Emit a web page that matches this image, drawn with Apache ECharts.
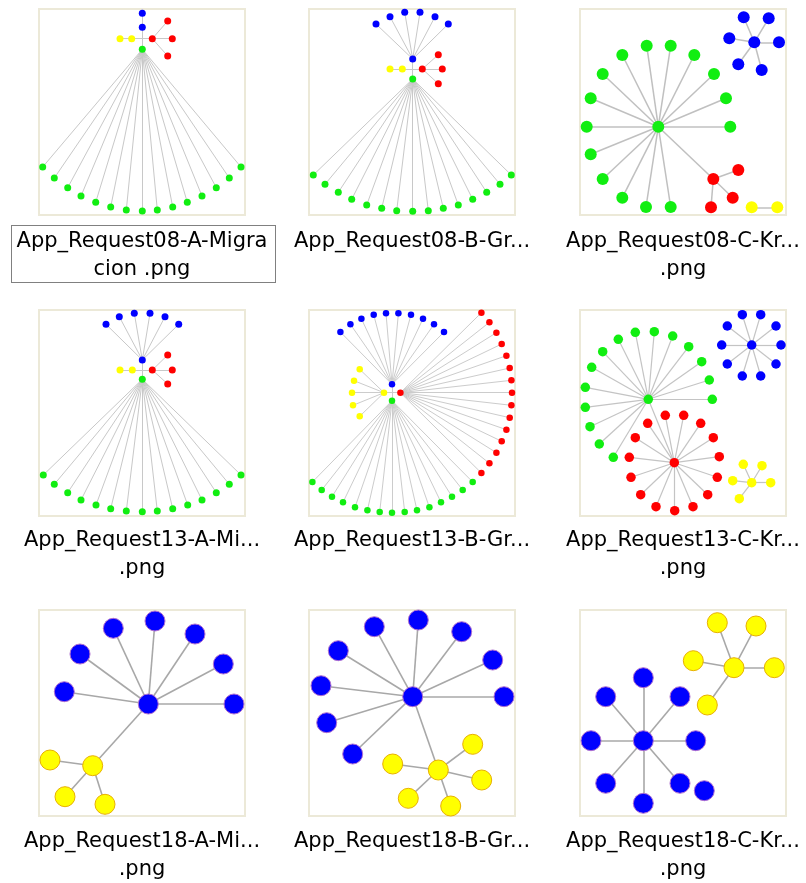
<!DOCTYPE html>
<html>
<head>
<meta charset="utf-8">
<script src="https://cdn.jsdelivr.net/npm/echarts@6/dist/echarts.min.js"></script>
<style>html,body{margin:0;padding:0;background:#fff}#c{width:806px;height:883px}</style>
</head>
<body>
<div id="c"></div>
<script>
// ---- Data: node positions inside each 206x206 thumbnail (first point of each list = hub) ----
const p08A_blue   = [[103.3,18.3],[103.3,4.3]];
const p08A_yellow = [[92.7,29.7],[81,29.7]];
const p08A_red    = [[113.3,29.7],[128.7,12],[133.3,29.7],[128.7,47]];
const p08A_green  = [[103.3,40.3],[3.7,158],[15.3,169],[28.7,178.7],[42,187],[56.7,193.3],[71.7,198],[87.3,201],[103.3,202],[118.3,201],[133.7,198],[148.3,193.3],[163,187],[177.3,178.7],[190.3,169],[202,158]];

const p08B_blue   = [[103.7,50],[67,15],[81,7.7],[95.7,3.3],[111,3.3],[126,7.7],[139.3,15]];
const p08B_yellow = [[93.3,60],[81,60]];
const p08B_red    = [[113.3,60],[129.3,45.7],[133.3,60],[129.3,74.7]];
const p08B_green  = [[103.7,70],[4.3,166],[16,175.3],[29.3,183.3],[42.7,190.3],[57.7,196],[72.7,199.3],[87.7,201.7],[103.7,202.3],[119.3,201.7],[134.3,199.3],[149.3,196],[163.7,190.3],[177.7,183.3],[191,175.3],[202.3,166]];

const p08C_green  = [[78.3,117.7],[66.7,36.7],[90.7,36.7],[114.3,46],[134,65],[146,89.3],[150.3,117.7],[42.3,46],[22.7,65],[10.7,89.3],[6.7,117.7],[10.7,145.3],[22.7,170],[42.3,188.7],[66,198],[90.7,198]];
const p08C_red    = [[133.3,170],[158.3,161],[152.7,188.7],[131,198.3]];
const p08C_yellow = [[171.7,198.3],[197.3,198.3]];
const p08C_blue   = [[174.3,33.3],[163.7,8.3],[188.7,9.3],[149.3,29.3],[199,33.3],[158.3,55.3],[181.7,61]];

const p13A_blue   = [[103.3,50],[67,14.3],[80.3,6.7],[95.3,3.3],[111,3.3],[126,6.7],[139.7,14.3]];
const p13A_yellow = [[93.3,60],[81,60]];
const p13A_red    = [[113.3,60],[128.7,45],[133.3,60],[128.7,74]];
const p13A_green  = [[103.3,69.3],[4.3,165],[15.3,174.3],[28.7,182.7],[42,190],[57,195],[71.7,198.7],[87.3,201],[103.3,201.7],[118.3,201],[133.7,198.7],[148.7,195],[163,190],[177.3,182.7],[190.3,174.3],[202,165]];

const p13B_blue   = [[83,74.3],[31.4,22],[41.4,14.3],[52.4,8.7],[64.7,4.7],[77,3.3],[89.4,3.3],[102,4.7],[114,8.7],[125,14.3],[135,22]];
const p13B_yellow = [[75,82.7],[50.7,59.3],[45,70.7],[43,82.7],[44,95.3],[50.7,106.3]];
const p13B_red    = [[91.4,82.7],[172.4,2.7],[180.4,12.3],[187.4,22.7],[192.7,34],[197.4,45.7],[200.7,58],[202.4,70.3],[203,82.7],[202.4,95.3],[200.7,107.7],[197.4,119.7],[192.7,131.3],[187.4,142.7],[180.4,153.3],[172.4,163]];
const p13B_green  = [[83,90.7],[3.4,172],[12.7,180],[23,186.7],[34,192.3],[46,197.3],[58.4,200.3],[70.7,202],[83,202.7],[95.7,202],[108,200.3],[120.4,197.3],[132,192.3],[143,186.7],[153.7,180],[163.7,172]];

const p13C_green  = [[68.3,89.3],[55.3,22.3],[74.3,21.7],[92.7,26],[108.7,36.7],[121.7,51.7],[129.3,70],[132.3,89.3],[38.3,29.3],[22.7,41.7],[11.7,57.3],[5.3,77.3],[5.3,97.3],[10,116.7],[19.3,134],[33.3,147.3]];
const p13C_red    = [[94.3,152.7],[67.7,113.3],[85.3,105.3],[103.7,105.3],[120.7,113.3],[133.3,127.7],[139.3,146.7],[137.3,167.3],[127.7,184.7],[113,196.7],[94.7,200.7],[76,196.7],[60.7,184.7],[51,167.3],[49.3,147.3],[55.3,127.7]];
const p13C_blue   = [[171.7,35],[162.3,4.7],[180.7,4.7],[196,16],[201,35],[196,54],[180.7,66],[162.3,66],[147.3,54],[141.7,35],[147.3,16]];
const p13C_yellow = [[171.7,172.7],[163.3,154.3],[182,155.7],[190.7,172.7],[152.7,170.7],[159.3,188.7]];

const p18A_blue   = [[109.3,94],[74.3,18.3],[116,11],[156,24],[184.3,54],[195,94],[41,44],[25.3,81.7]];
const p18A_yellow = [[53.7,155.7],[11,150],[26,186.7],[66,194.3]];

const p18B_blue   = [[103.7,86.7],[65.3,16.7],[109.3,10],[152.7,21.7],[183.7,50],[195,86.7],[29.3,40.7],[12,75.7],[17.7,112.7],[43.7,144]];
const p18B_yellow = [[129.3,160],[83.7,154],[163.7,134.3],[172.7,170],[99.3,188.3],[141.7,196]];

const p18C_yellow = [[154,57.7],[137.3,12.7],[176,16],[113.3,50.7],[194.3,57.7],[127.3,95]];
const p18C_blue   = [[63.3,130.7],[63.3,67.7],[25.7,86.7],[100,86.7],[11,130.7],[115.7,130.7],[25.7,173.3],[100,173.3],[63.3,193.3]];
const p18C_blueLone = [[124.3,180.7]];

const labelLine1 = ['App_Request08-A-Migra','App_Request08-B-Gr...','App_Request08-C-Kr...',
                    'App_Request13-A-Mi...','App_Request13-B-Gr...','App_Request13-C-Kr...',
                    'App_Request18-A-Mi...','App_Request18-B-Gr...','App_Request18-C-Kr...'];
const labelLine2 = ['cion .png','','.png','.png','','.png','.png','','.png'];

// ---- Styling / layout ----
const COLORS = {blue:'#0000ff', red:'#ff0000', green:'#11ee11', yellow:'#ffff00'};
const BOX = 206;
const colX = [39, 309, 580];
const rowY = [9, 310, 610];
const labelY1 = [242, 541, 842];
const labelY2 = [270, 569, 870];
const FONT = '21px "DejaVu Sans"';

// clusters: [points, colorKey]; hubLinks: pairs of cluster indices whose hubs connect
const panels = [
  {clusters:[[p08A_blue,'blue'],[p08A_yellow,'yellow'],[p08A_red,'red'],[p08A_green,'green']], hubLinks:[[0,3],[1,2]], size:7, line:{color:'#c8c8c8',width:1}},
  {clusters:[[p08B_blue,'blue'],[p08B_yellow,'yellow'],[p08B_red,'red'],[p08B_green,'green']], hubLinks:[[0,3],[1,2]], size:7, line:{color:'#c8c8c8',width:1}},
  {clusters:[[p08C_green,'green'],[p08C_red,'red'],[p08C_yellow,'yellow'],[p08C_blue,'blue']], hubLinks:[[0,1]], size:12, line:{color:'#c0c0c0',width:1.5}},
  {clusters:[[p13A_blue,'blue'],[p13A_yellow,'yellow'],[p13A_red,'red'],[p13A_green,'green']], hubLinks:[[0,3],[1,2]], size:7, line:{color:'#c8c8c8',width:1}},
  {clusters:[[p13B_blue,'blue'],[p13B_yellow,'yellow'],[p13B_red,'red'],[p13B_green,'green']], hubLinks:[[0,3],[1,2]], size:6.5, line:{color:'#cccccc',width:1}},
  {clusters:[[p13C_green,'green'],[p13C_red,'red'],[p13C_blue,'blue'],[p13C_yellow,'yellow']], hubLinks:[[0,1]], size:9.5, line:{color:'#c4c4c4',width:1.2}},
  {clusters:[[p18A_blue,'blue'],[p18A_yellow,'yellow']], hubLinks:[[0,1]], size:20, line:{color:'#a8a8a8',width:1.6}, border:true},
  {clusters:[[p18B_blue,'blue'],[p18B_yellow,'yellow']], hubLinks:[[0,1]], size:20, line:{color:'#a8a8a8',width:1.6}, border:true},
  {clusters:[[p18C_yellow,'yellow'],[p18C_blue,'blue'],[p18C_blueLone,'blue']], hubLinks:[], size:20, line:{color:'#a8a8a8',width:1.6}, border:true}
];

const grids = [], xAxes = [], yAxes = [], series = [], graphics = [];
panels.forEach((p, i) => {
  const c = i % 3, r = Math.floor(i / 3);
  grids.push({left: colX[c], top: rowY[r], width: BOX, height: BOX, show: true,
              borderColor: '#ECE9D8', borderWidth: 2, backgroundColor: '#ffffff'});
  xAxes.push({type:'value', gridIndex:i, min:0, max:BOX, show:false});
  yAxes.push({type:'value', gridIndex:i, min:0, max:BOX, show:false, inverse:true});
  const nodes = [], links = [], hubIdx = [];
  p.clusters.forEach(([pts, col]) => {
    const hub = nodes.length;
    hubIdx.push(hub);
    pts.forEach((pt, k) => {
      const style = {color: COLORS[col]};
      if (p.border) { style.borderColor = col === 'blue' ? '#b070d0' : '#e8b000'; style.borderWidth = 1; }
      nodes.push({value: pt, itemStyle: style});
      if (k > 0) links.push({source: hub, target: hub + k});
    });
  });
  p.hubLinks.forEach(([a, b]) => links.push({source: hubIdx[a], target: hubIdx[b]}));
  series.push({
    type:'graph', layout:'none', coordinateSystem:'cartesian2d', xAxisIndex:i, yAxisIndex:i,
    symbol:'circle', symbolSize:p.size, data:nodes, links:links, silent:true, animation:false,
    label:{show:false}, lineStyle:{color:p.line.color, width:p.line.width, opacity:1, curveness:0},
    emphasis:{disabled:true}
  });
  const cx = colX[c] + BOX / 2;
  graphics.push({type:'text', silent:true, style:{text:labelLine1[i], x:cx, y:labelY1[r], align:'center', verticalAlign:'middle',
    textAlign:'center', textVerticalAlign:'middle', font:FONT, fill:'#000'}});
  if (labelLine2[i]) {
    graphics.push({type:'text', silent:true, style:{text:labelLine2[i], x:cx, y:labelY2[r], align:'center', verticalAlign:'middle',
      textAlign:'center', textVerticalAlign:'middle', font:FONT, fill:'#000'}});
  }
});
// focus rectangle around the first label
graphics.push({type:'rect', silent:true, shape:{x:11.5, y:225.5, width:264, height:57},
  style:{fill:'none', stroke:'#000', lineWidth:1, lineDash:[1,1]}});

const chart = echarts.init(document.getElementById('c'), null, {renderer:'canvas'});
chart.setOption({
  backgroundColor:'#ffffff', animation:false,
  grid:grids, xAxis:xAxes, yAxis:yAxes, series:series, graphic:graphics
});
</script>
</body>
</html>
